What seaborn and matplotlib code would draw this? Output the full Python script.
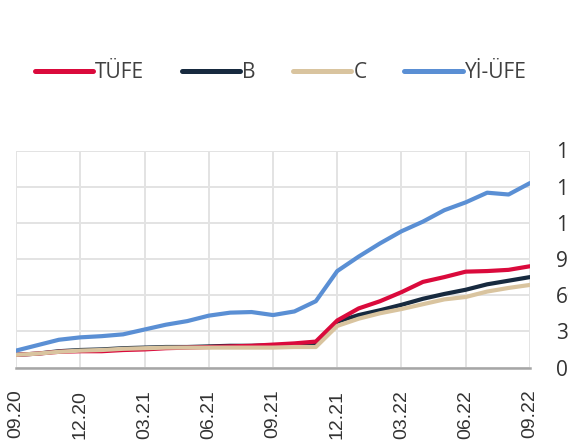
import matplotlib
matplotlib.use("Agg")
import matplotlib.pyplot as plt
from matplotlib.lines import Line2D
import numpy as np
import pandas as pd
import seaborn as sns

# ---- data ----
months = ["09.20", "10.20", "11.20", "12.20", "01.21", "02.21", "03.21", "04.21", "05.21",
          "06.21", "07.21", "08.21", "09.21", "10.21", "11.21", "12.21", "01.22", "02.22",
          "03.22", "04.22", "05.22", "06.22", "07.22", "08.22", "09.22"]
tufe = [10.5, 11.5, 13.0, 13.5, 13.5, 14.5, 15.0, 16.0, 16.5, 17.0, 17.5, 18.0, 19.0,
        20.0, 21.5, 39.0, 49.0, 55.0, 62.5, 71.0, 75.0, 79.5, 80.0, 81.0, 84.0]
b = [10.5, 11.5, 13.5, 14.5, 15.0, 16.0, 16.5, 17.0, 17.0, 17.5, 18.0, 18.0, 18.5,
     18.5, 19.0, 38.0, 43.5, 47.5, 52.0, 57.0, 61.0, 64.5, 69.0, 72.0, 75.0]
c = [10.5, 11.5, 13.0, 14.0, 14.5, 15.5, 16.0, 16.5, 16.5, 16.5, 16.5, 16.5, 16.5,
     17.0, 17.0, 34.5, 40.5, 45.0, 48.5, 52.5, 56.5, 58.5, 63.0, 66.0, 68.5]
yiufe = [14.0, 18.5, 23.0, 25.0, 26.0, 27.5, 31.5, 35.5, 38.5, 43.0, 45.5, 46.0, 43.5,
         46.5, 55.0, 80.0, 92.0, 103.0, 113.0, 121.0, 130.5, 137.0, 145.0, 143.5, 153.0]
series_names = ["TÜFE", "B", "C", "Yİ-ÜFE"]
y_ticks = [0, 30, 60, 90, 120, 150, 180]
tick_labels = months[::3]

colors = {"TÜFE": "#DA0A3C", "B": "#172A3F", "C": "#D9C49F", "Yİ-ÜFE": "#5A8FD4"}

df = pd.DataFrame({"idx": np.arange(len(months)), "TÜFE": tufe, "B": b, "C": c, "Yİ-ÜFE": yiufe})
long = df.melt(id_vars="idx", var_name="series", value_name="value")

sns.set_theme(style="white")
plt.rcParams["font.family"] = ["Open Sans", "DejaVu Sans"]

fig = plt.figure(figsize=(5.68, 4.47), dpi=100)
ax = fig.add_axes([16 / 568, 1 - 367.5 / 447, (530 - 16) / 568, (367.5 - 150.5) / 447])

draw_order = ["B", "TÜFE", "C", "Yİ-ÜFE"]
sns.lineplot(data=long, x="idx", y="value", hue="series", hue_order=draw_order,
             palette=colors, linewidth=3.0, ax=ax, legend=False)
for ln in ax.lines:
    ln.set_solid_joinstyle("round")
    ln.set_solid_capstyle("round")

ax.set_xlim(0, len(months) - 1)
ax.set_ylim(0, 180)
ax.set_xticks(np.arange(0, len(months), 3))
ax.set_xticklabels(tick_labels, rotation=90, fontsize=14, color="#333333",
                   family=["Liberation Sans", "DejaVu Sans"])
ax.set_yticks(y_ticks)
ax.set_yticklabels([str(v) for v in y_ticks], fontsize=15, color="#333333")
ax.yaxis.tick_right()
ax.tick_params(axis="y", length=0, pad=18.5)
ax.tick_params(axis="x", length=0, pad=16)
ax.set_xlabel("")
ax.set_ylabel("")

ax.grid(True, color="#E3E3E3", linewidth=1.4)
ax.set_axisbelow(True)
for s in ["top", "left", "right"]:
    ax.spines[s].set_visible(False)
ax.spines["bottom"].set_color("#A6A6A6")
ax.spines["bottom"].set_linewidth(1.8)

handles = [Line2D([0], [0], color=colors[n], linewidth=3.6, solid_capstyle="round")
           for n in series_names]
fig.legend(handles, series_names, loc="center", bbox_to_anchor=(0.494, 1 - 73 / 447),
           ncol=4, frameon=False, fontsize=15, handlelength=2.8, handletextpad=0.1,
           columnspacing=1.8, labelcolor="#404040")

fig.savefig("out.png", dpi=100)
